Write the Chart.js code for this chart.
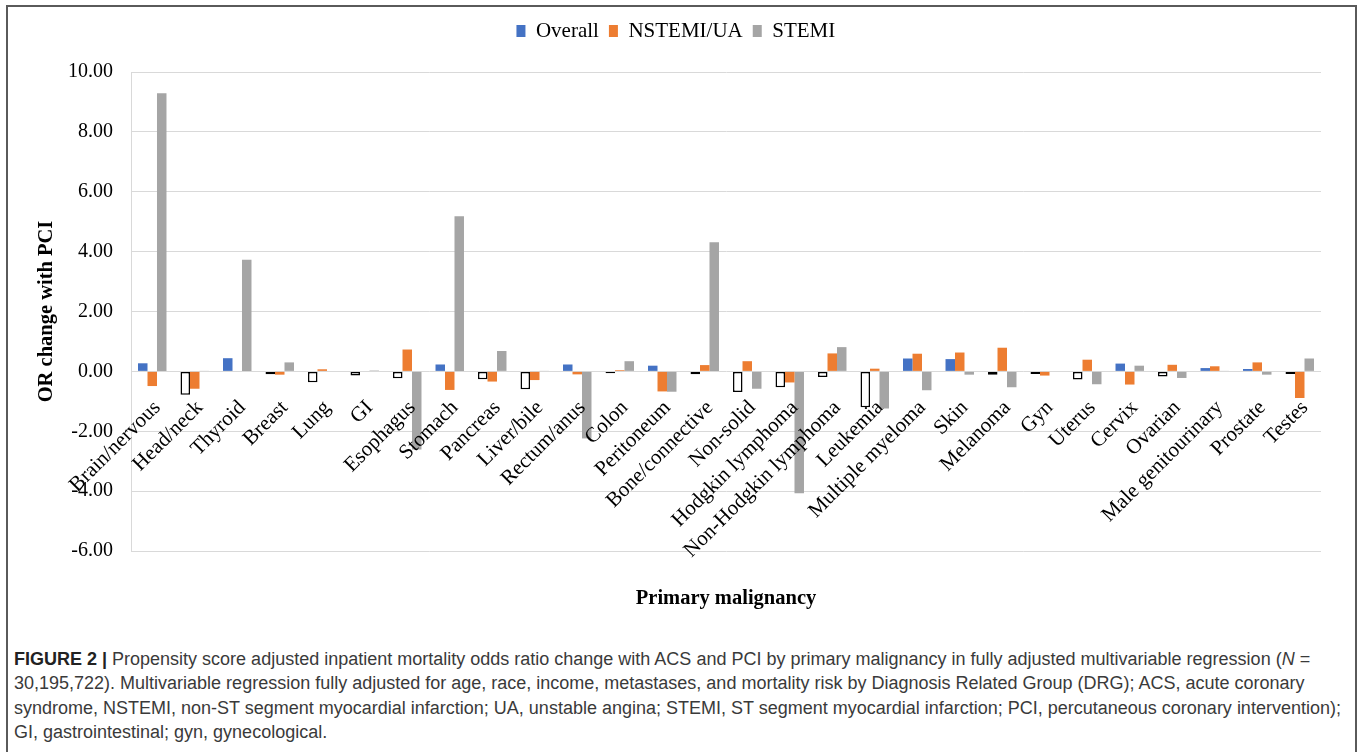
<!DOCTYPE html>
<html>
<head>
<meta charset="utf-8">
<script src="https://cdn.jsdelivr.net/npm/chart.js@4.4.1/dist/chart.umd.min.js"></script>
<style>
  html, body { margin: 0; padding: 0; background: #fff; }
  body { width: 1357px; height: 752px; position: relative; overflow: hidden; }
  #frame { position: absolute; left: 6px; top: 5px; width: 1347px; height: 800px;
           border: 2px solid #5a5a5a; border-bottom: none; }
  #wrap { position: absolute; left: 0; top: 0; width: 1357px; height: 630px; }
  #caption { position: absolute; left: 14px; top: 647px; white-space: nowrap;
             font-family: "Liberation Sans", Arial, sans-serif; font-size: 18px;
             line-height: 24.4px; color: #3a3a3a; }
  #caption b { color: #222; }
</style>
</head>
<body>
<div id="frame"></div>
<div id="wrap"><canvas id="c" width="1357" height="630"></canvas></div>
<div id="caption">
<b>FIGURE 2 |</b> Propensity score adjusted inpatient mortality odds ratio change with ACS and PCI by primary malignancy in fully adjusted multivariable regression (<i>N</i> =<br>
30,195,722). Multivariable regression fully adjusted for age, race, income, metastases, and mortality risk by Diagnosis Related Group (DRG); ACS, acute coronary<br>
syndrome, NSTEMI, non-ST segment myocardial infarction; UA, unstable angina; STEMI, ST segment myocardial infarction; PCI, percutaneous coronary intervention);<br>
GI, gastrointestinal; gyn, gynecological.
</div>
<script>
const categories = ["Brain/nervous","Head/neck","Thyroid","Breast","Lung","GI","Esophagus","Stomach","Pancreas","Liver/bile","Rectum/anus","Colon","Peritoneum","Bone/connective","Non-solid","Hodgkin lymphoma","Non-Hodgkin lymphoma","Leukemia","Multiple myeloma","Skin","Melanoma","Gyn","Uterus","Cervix","Ovarian","Male genitourinary","Prostate","Testes"];
const overall = [0.27,-0.78,0.44,-0.10,-0.36,-0.14,-0.23,0.23,-0.26,-0.60,0.23,-0.06,0.19,-0.10,-0.69,-0.53,-0.19,-1.20,0.43,0.41,-0.11,-0.09,-0.27,0.26,-0.17,0.11,0.08,-0.09];
const nstemiUA = [-0.49,-0.58,0.00,-0.11,0.07,0.00,0.73,-0.62,-0.34,-0.29,-0.10,0.04,-0.67,0.21,0.34,-0.37,0.60,0.09,0.59,0.63,0.79,-0.14,0.39,-0.44,0.22,0.17,0.30,-0.89];
const stemi = [9.29,0.02,3.73,0.30,0.00,0.03,-2.61,5.18,0.68,0.02,-2.24,0.34,-0.68,4.31,-0.58,-4.07,0.81,-1.24,-0.63,-0.11,-0.53,0.00,-0.43,0.19,-0.22,0.02,-0.11,0.43];
const yTicks = { min: -6, max: 10, step: 2 };

const SERIF = '"Liberation Serif", "Times New Roman", serif';

const catLabels = {
  id: 'catLabels',
  afterDatasetsDraw(chart) {
    const xs = chart.scales.x, ys = chart.scales.y, ctx = chart.ctx;
    const y0 = ys.getPixelForValue(0);
    ctx.save();
    ctx.font = '21px ' + SERIF;
    ctx.fillStyle = '#000';
    ctx.textAlign = 'right';
    ctx.textBaseline = 'alphabetic';
    categories.forEach((c, i) => {
      const x = xs.getPixelForValue(i);
      ctx.save();
      ctx.translate(x + 9, y0 + 37);
      ctx.rotate(-Math.PI / 4);
      ctx.fillText(c, 0, 0);
      ctx.restore();
    });
    ctx.restore();
  }
};

new Chart(document.getElementById('c'), {
  type: 'bar',
  data: {
    labels: categories,
    datasets: [
      { label: 'Overall', data: overall,
        backgroundColor: ctx => (ctx.raw < 0 ? '#ffffff' : '#4472C4'),
        borderColor: '#000000',
        borderWidth: ctx => (ctx.raw < 0 ? 1.5 : 0),
        borderSkipped: false },
      { label: 'NSTEMI/UA', data: nstemiUA, backgroundColor: '#ED7D31', borderWidth: 0 },
      { label: 'STEMI', data: stemi, backgroundColor: '#A5A5A5', borderWidth: 0 }
    ]
  },
  options: {
    responsive: false,
    animation: false,
    devicePixelRatio: 1,
    layout: { padding: { left: 30.7, right: 36, top: 10.5, bottom: 18.7 } },
    datasets: { bar: { categoryPercentage: 0.67, barPercentage: 1.0 } },
    plugins: {
      legend: {
        position: 'top',
        labels: {
          font: { family: SERIF, size: 21 },
          color: '#000',
          boxWidth: 9, boxHeight: 12, padding: 10,
          generateLabels(chart) {
            const cols = ['#4472C4', '#ED7D31', '#A5A5A5'];
            return chart.data.datasets.map((d, i) => ({
              text: d.label, fillStyle: cols[i], strokeStyle: cols[i], lineWidth: 0,
              hidden: false, datasetIndex: i, fontColor: '#000'
            }));
          }
        }
      },
      tooltip: { enabled: false }
    },
    scales: {
      x: {
        position: 'bottom',
        grid: { display: false, drawTicks: false },
        border: { display: false },
        ticks: { display: false },
        title: { display: true, text: 'Primary malignancy', color: '#000',
                 font: { family: SERIF, size: 20.5, weight: 'bold' },
                 padding: { top: 35.7, bottom: 0 } }
      },
      xTop: {
        type: 'category',
        position: 'top',
        display: true,
        grid: { display: false, drawTicks: false },
        border: { display: false },
        ticks: { display: false },
        title: { display: true, text: '', font: { size: 10 }, padding: { top: 8.5, bottom: 0 } }
      },
      y: {
        min: yTicks.min, max: yTicks.max,
        afterFit(scale) { scale.width = 100.3; },
        ticks: {
          stepSize: yTicks.step,
          padding: 18,
          color: '#000',
          font: { family: SERIF, size: 20 },
          callback: v => v.toFixed(2)
        },
        grid: { color: '#d9d9d9', lineWidth: 1, drawTicks: false },
        border: { display: true, color: '#d9d9d9' },
        title: { display: true, text: 'OR change with PCI', color: '#000',
                 font: { family: SERIF, size: 20.5, weight: 'bold' },
                 padding: { top: 4, bottom: 4 } }
      }
    }
  },
  plugins: [catLabels]
});
</script>
</body>
</html>
